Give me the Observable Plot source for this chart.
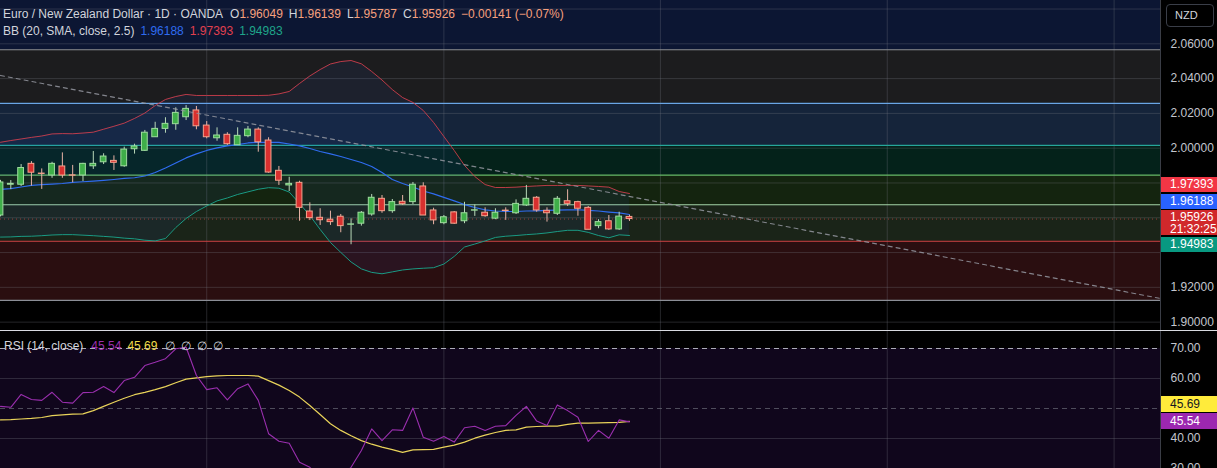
<!DOCTYPE html>
<html><head><meta charset="utf-8">
<script src="https://cdn.jsdelivr.net/npm/d3@7"></script>
<script src="https://cdn.jsdelivr.net/npm/@observablehq/plot@0.6"></script>
<style>
body{margin:0;background:#000;width:1217px;height:468px;overflow:hidden;position:relative;font-family:"Liberation Sans",Arial,sans-serif;}
.abs{position:absolute;}
.legend{position:absolute;left:3px;font-size:12px;line-height:17px;color:#d1d4dc;white-space:nowrap;}
.legend span.v{margin-left:6px;}
.lbl{position:absolute;left:1161px;width:56px;font-size:12px;color:#fff;padding-left:9px;box-sizing:border-box;white-space:nowrap;}
</style></head><body>
<div id="main" class="abs" style="left:0;top:0"></div>
<div id="rsi" class="abs" style="left:0;top:330px"></div>
<div id="overlay"></div>
<script>
// ---------------- DATA ----------------
const open = [1.9613,1.9790,1.9790,1.9910,1.9854,1.9843,1.9895,1.9844,1.9843,1.9896,
1.9919,1.9927,1.9896,1.9994,1.9985,2.0063,2.0111,2.0138,2.0178,2.0217,
2.0130,2.0057,2.0077,2.0017,2.0069,2.0107,2.0044,1.9870,1.9786,1.9801,
1.9636,1.9600,1.9589,1.9606,1.9560,1.9566,1.9619,1.9709,1.9638,1.9692,
1.9690,1.9780,1.9642,1.9569,1.9631,1.9580,1.9641,1.9629,1.9595,1.9641,
1.9626,1.9671,1.9715,1.9640,1.9623,1.9695,1.9690,1.9657,1.9552,1.9580,
1.9533,1.96049];
const high = [1.9815,1.9814,1.9906,1.9923,1.9881,1.9919,1.9973,1.9901,1.9913,1.9981,
1.9968,1.9956,2.0006,2.0023,2.0102,2.0149,2.0175,2.0232,2.0245,2.0240,
2.0153,2.0117,2.0089,2.0117,2.0125,2.0117,2.0060,1.9895,1.9833,1.9810,
1.9686,1.9652,1.9638,1.9619,1.9594,1.9636,1.9734,1.9728,1.9705,1.9728,
1.9803,1.9801,1.9655,1.9613,1.9636,1.9689,1.9674,1.9657,1.9652,1.9657,
1.9703,1.9786,1.9722,1.9657,1.9722,1.9761,1.9695,1.9665,1.9589,1.9613,
1.9632,1.96139];
const low = [1.9605,1.9762,1.9780,1.9782,1.9763,1.9827,1.9827,1.9801,1.9808,1.9878,
1.9906,1.9872,1.9890,1.9966,1.9981,2.0063,2.0086,2.0103,2.0159,2.0106,
2.0054,2.0040,2.0016,2.0017,2.0060,1.9977,1.9856,1.9786,1.9751,1.9580,
1.9584,1.9556,1.9556,1.9514,1.9445,1.9552,1.9609,1.9626,1.9626,1.9671,
1.9676,1.9613,1.9560,1.9560,1.9562,1.9566,1.9608,1.9603,1.9589,1.9585,
1.9619,1.9665,1.9632,1.9575,1.9613,1.9665,1.9609,1.9531,1.9537,1.9527,
1.9527,1.95787];
const close = [1.9803,1.9795,1.9886,1.9859,1.9852,1.9910,1.9843,1.9842,1.9910,1.9910,
1.9952,1.9916,1.9992,2.0010,2.0089,2.0111,2.0140,2.0203,2.0226,2.0126,
2.0063,2.0073,2.0023,2.0071,2.0107,2.0034,1.9860,1.9813,1.9795,1.9657,
1.9598,1.9586,1.9575,1.9552,1.9562,1.9629,1.9715,1.9638,1.9690,1.9678,
1.9790,1.9613,1.9585,1.9603,1.9566,1.9626,1.9643,1.9609,1.9629,1.9639,
1.9680,1.9709,1.9642,1.9626,1.9709,1.9680,1.9652,1.9531,1.9575,1.9533,
1.96067,1.95926];

const bbUpper = [2.0034,2.0044,2.0053,2.0062,2.0070,2.0082,2.0084,2.0083,2.0087,2.0092,
2.0109,2.0126,2.0144,2.0171,2.0202,2.0245,2.0280,2.0297,2.0309,2.0303,
2.0303,2.0303,2.0303,2.0303,2.0303,2.0303,2.0304,2.0312,2.0326,2.0372,
2.0415,2.0452,2.0484,2.0498,2.0504,2.0485,2.0441,2.0392,2.0337,2.0291,
2.0263,2.0217,2.0148,2.0067,1.9987,1.9901,1.9837,1.9791,1.9774,1.9774,
1.9776,1.9780,1.9783,1.9786,1.9786,1.9786,1.9786,1.9783,1.9780,1.9776,
1.9751,1.97393];
const bbBasis = [1.9763,1.9768,1.9777,1.9786,1.9790,1.9794,1.9797,1.9803,1.9807,1.9811,
1.9815,1.9820,1.9826,1.9830,1.9840,1.9860,1.9886,1.9915,1.9944,1.9967,
1.9987,2.0002,2.0013,2.0021,2.0030,2.0034,2.0034,2.0033,2.0024,2.0013,
1.9998,1.9981,1.9967,1.9952,1.9935,1.9918,1.9895,1.9860,1.9820,1.9797,
1.9777,1.9754,1.9737,1.9717,1.9697,1.9676,1.9659,1.9645,1.9639,1.9636,
1.9636,1.9639,1.9640,1.9642,1.9644,1.9645,1.9646,1.9643,1.9639,1.9633,
1.9628,1.96188];
const bbLower = [1.9489,1.9490,1.9493,1.9494,1.9497,1.9501,1.9503,1.9503,1.9500,1.9497,
1.9493,1.9489,1.9483,1.9479,1.9471,1.9467,1.9481,1.9544,1.9596,1.9636,
1.9668,1.9697,1.9714,1.9734,1.9749,1.9764,1.9773,1.9770,1.9748,1.9682,
1.9613,1.9533,1.9458,1.9401,1.9346,1.9306,1.9286,1.9278,1.9289,1.9300,
1.9306,1.9310,1.9313,1.9334,1.9378,1.9432,1.9449,1.9467,1.9487,1.9494,
1.9498,1.9503,1.9507,1.9513,1.9521,1.9528,1.9528,1.9516,1.9498,1.9485,
1.9502,1.94983];

const rsi = [50.7,50.4,54.7,53.0,52.7,55.4,52.1,51.8,55.3,55.4,
57.3,55.3,59.3,60.4,64.3,65.4,66.6,69.9,70.4,61.0,
56.3,56.9,52.9,56.6,58.2,52.7,41.6,39.1,38.4,32.1,
30.4,27.0,25.0,27.0,30.4,36.0,43.2,39.3,42.9,42.7,
50.2,40.4,39.1,40.7,38.8,43.6,44.1,42.7,44.1,44.3,
47.7,50.7,45.8,44.3,51.2,49.3,47.1,39.0,42.7,40.1,
46.2,45.54];
const rsiMA = [46.2,46.3,46.5,46.7,47.0,47.6,47.9,48.1,48.2,49.3,
50.7,52.1,53.4,54.6,55.4,56.3,57.3,58.6,59.8,60.2,
60.6,60.9,61.0,61.0,61.0,60.8,59.3,57.8,56.0,53.8,
51.0,48.0,44.9,42.7,40.9,39.3,38.1,37.1,36.3,35.4,
36.2,36.3,36.4,37.1,37.8,38.8,40.1,41.1,42.0,42.7,
42.9,43.8,44.0,44.1,44.1,44.7,45.1,45.1,45.2,45.3,
45.4,45.69];

// Fibonacci retracement levels (0 → 1)
const fibLevels = [1.9125, 1.9465, 1.9675, 1.9845, 2.0016, 2.0258, 2.0566];
// Trend line (bar index, price)
const trendIdx = [0, 112.5];
const trendPrice = [2.0418, 1.9136];
// Month boundaries (bar index)
const monthStarts = [20, 43, 64, 86, 108];
// Axis ticks
const priceGrid = [1.90, 1.92, 1.94, 1.96, 1.98, 2.00, 2.02, 2.04, 2.06, 2.08];
const priceTickLabels = [1.90, 1.92, 2.00, 2.02, 2.04, 2.06];
const rsiGrid = [40, 60];
const rsiTickLabels = [30, 40, 60, 70];
const rsiBands = [30, 50, 70];

// ---------------- STYLE ----------------
const W = 1217, RIGHT = 57;
const xDomain = [0, 112.5];
const priceDomain = [1.8952, 2.0849];
const rsiDomain = [30, 76];
const zoneFills = ["#2a0e10", "#1a2418", "#14240f", "#04221a", "#15243a", "#1c1c1e"];
const topFill = "#0c1633";
const fibLineColors = ["#8b8e96", "#d04545", "#a5d6a7", "#66bb6a", "#26a69a", "#6aa6e6", "#8b8e96"];
const upFill = "#3fae49", upStroke = "#9fdc9f", upWick = "#b9d9b9";
const dnFill = "#d8302f", dnStroke = "#f5a48f", dnWick = "#e9b3a6";
const gridStyle = {stroke: "#787b86", strokeOpacity: 0.3};
const fontFamily = '"Liberation Sans", Arial, sans-serif';

const N = close.length;
const idx = d3.range(N);
const candles = idx.map(i => ({i, o: open[i], h: high[i], l: low[i], c: close[i], up: close[i] >= open[i]}));
const zones = d3.range(fibLevels.length - 1).map(k => ({lo: fibLevels[k], hi: fibLevels[k + 1], fill: zoneFills[k]}));
zones.push({lo: fibLevels[fibLevels.length - 1], hi: priceDomain[1], fill: topFill});
const trend = trendIdx.map((x, k) => ({x, y: trendPrice[k]}));

const mainPlot = Plot.plot({
  width: W, height: 330,
  marginLeft: 0, marginRight: RIGHT, marginTop: 0, marginBottom: 0,
  x: {domain: xDomain, axis: null},
  y: {domain: priceDomain},
  color: {type: "identity"},
  style: {background: "#000", color: "#c3c6ce", fontFamily, fontSize: "12px", overflow: "hidden", maxWidth: "none"},
  marks: [
    Plot.rect(zones, {x1: xDomain[0], x2: xDomain[1], y1: "lo", y2: "hi", fill: "fill"}),
    Plot.ruleY(priceGrid, gridStyle),
    Plot.ruleX(monthStarts, gridStyle),
    Plot.ruleY(fibLevels, {stroke: (d, k) => fibLineColors[k], strokeWidth: 1.2}),
    Plot.areaY(idx, {x: i => i, y1: i => bbLower[i], y2: i => bbUpper[i], fill: "#2962ff", fillOpacity: 0.07}),
    Plot.line(idx, {x: i => i, y: i => bbUpper[i], stroke: "#d8404c", strokeOpacity: 0.85, strokeWidth: 1}),
    Plot.line(idx, {x: i => i, y: i => bbBasis[i], stroke: "#2f6cf0", strokeWidth: 1.2}),
    Plot.line(idx, {x: i => i, y: i => bbLower[i], stroke: "#1a9b86", strokeWidth: 1}),
    Plot.ruleY([close[N - 1]], {stroke: "#e5524a", strokeOpacity: 0.6, strokeDasharray: "1,3"}),
    Plot.ruleX(candles, {x: "i", y1: "l", y2: "h", stroke: d => d.up ? upWick : dnWick, strokeWidth: 1}),
    Plot.rect(candles, {x1: d => d.i - 0.28, x2: d => d.i + 0.28, y1: "o", y2: "c",
      fill: d => d.up ? upFill : dnFill, stroke: d => d.up ? upStroke : dnStroke, strokeWidth: 1}),
    Plot.line(trend, {x: "x", y: "y", stroke: "#9598a1", strokeOpacity: 0.85, strokeWidth: 1.2, strokeDasharray: "4,4"}),
    Plot.axisY(priceTickLabels, {anchor: "right", tickSize: 0, tickPadding: 10, tickFormat: d3.format(".5f"), label: null})
  ]
});
document.getElementById("main").appendChild(mainPlot);

const rsiPlot = Plot.plot({
  width: W, height: 138,
  marginLeft: 0, marginRight: RIGHT, marginTop: 0, marginBottom: 0,
  x: {domain: xDomain, axis: null},
  y: {domain: rsiDomain},
  style: {background: "#000", color: "#c3c6ce", fontFamily, fontSize: "12px", overflow: "hidden", maxWidth: "none"},
  marks: [
    Plot.rect([rsiBands], {x1: xDomain[0], x2: xDomain[1], y1: d => d[0], y2: d => d[2], fill: "#10061c"}),
    Plot.ruleY(rsiGrid, gridStyle),
    Plot.ruleX(monthStarts, gridStyle),
    Plot.ruleY([rsiBands[1]], {stroke: "#787b86", strokeOpacity: 0.6, strokeDasharray: "5,4"}),
    Plot.ruleY([rsiBands[0], rsiBands[2]], {stroke: "#c8cad2", strokeOpacity: 0.85, strokeDasharray: "5,4"}),
    Plot.line(idx, {x: i => i, y: i => rsiMA[i], stroke: "#e9d35a", strokeWidth: 1.2}),
    Plot.line(idx, {x: i => i, y: i => rsi[i], stroke: "#9a2fae", strokeWidth: 1.1}),
    Plot.axisY(rsiTickLabels, {anchor: "right", tickSize: 0, tickPadding: 10, tickFormat: d3.format(".2f"), label: null})
  ]
});
document.getElementById("rsi").appendChild(rsiPlot);

// ---------------- OVERLAYS ----------------
const ov = document.getElementById("overlay");
function el(html) { const t = document.createElement("template"); t.innerHTML = html.trim(); const n = t.content.firstChild; ov.appendChild(n); return n; }
const f5 = d3.format(".5f");
const minus = s => s.replace("-", "\u2212");
const chg = close[N - 1] - close[N - 2];
const pct = chg / close[N - 2] * 100;
const dnText = "#f7a07e";

el(`<div class="legend" style="top:6px">Euro / New Zealand Dollar · 1D · OANDA<span style="margin-left:7px">O<span style="color:${dnText}">${f5(open[N-1])}</span></span><span class="v">H<span style="color:${dnText}">${f5(high[N-1])}</span></span><span class="v">L<span style="color:${dnText}">${f5(low[N-1])}</span></span><span class="v">C<span style="color:${dnText}">${f5(close[N-1])}</span></span><span class="v" style="color:${dnText}">${minus(f5(chg))} (${minus(pct.toFixed(2))}%)</span></div>`);
el(`<div class="legend" style="top:23px">BB (20, SMA, close, 2.5)<span class="v" style="color:#2f6cf0">${f5(bbBasis[N-1])}</span><span class="v" style="color:#e0404f">${f5(bbUpper[N-1])}</span><span class="v" style="color:#1fa58a">${f5(bbLower[N-1])}</span></div>`);
el(`<div class="legend" style="top:338px;left:4px">RSI (14, close)<span class="v" style="color:#9a2fae;margin-left:8px">${rsi[N-1].toFixed(2)}</span><span class="v" style="color:#f0dc4a">${rsiMA[N-1].toFixed(2)}</span><span class="v" style="margin-left:8px">∅</span><span class="v">∅</span><span class="v">∅</span><span class="v">∅</span></div>`);

// separators
el(`<div class="abs" style="left:1160px;top:0;width:1px;height:468px;background:#3a3d46"></div>`);
el(`<div class="abs" style="left:0;top:330px;width:1217px;height:1px;background:#d8dae0"></div>`);
// currency button
el(`<div class="abs" style="left:1166px;top:4px;width:48px;height:23px;border:1px solid #3a3e48;border-radius:4px;box-sizing:border-box;color:#d1d4dc;font-size:11px;line-height:21px;padding-left:8px">NZD</div>`);

// price labels on the right axis
const yMain = mainPlot.scale("y");
const yR = rsiPlot.scale("y");
function box(center, h, bg, fg, text) {
  el(`<div class="lbl" style="top:${center - h / 2}px;height:${h}px;line-height:${h}px;background:${bg};color:${fg}">${text}</div>`);
}
const H1 = 15, GAP = 1.5;
const yc = yMain.apply(close[N - 1]);
const curTop = yc - 8.5, curH = 25;
el(`<div class="lbl" style="top:${curTop}px;height:${curH}px;background:#d1282b;line-height:12px;padding-top:1px">${f5(close[N-1])}<br>21:32:25</div>`);
let stackTop = curTop;
[[bbBasis[N - 1], "#2962ff"], [bbUpper[N - 1], "#f23645"]].sort((a, b) => a[0] - b[0]).forEach(([v, c]) => {
  const center = Math.min(yMain.apply(v), stackTop - GAP - H1 / 2);
  box(center, H1, c, "#fff", f5(v));
  stackTop = center - H1 / 2;
});
const stackBottom = curTop + curH;
{
  const v = bbLower[N - 1];
  const center = Math.max(yMain.apply(v), stackBottom + GAP + H1 / 2);
  box(center, H1, "#089981", "#fff", f5(v));
}
{
  const yr = 330 + yR.apply(rsi[N - 1]);
  box(yr, H1 + 1, "#9c27b0", "#fff", rsi[N - 1].toFixed(2));
  const ym = Math.min(330 + yR.apply(rsiMA[N - 1]), yr - (H1 + 1) - GAP);
  box(ym, H1 + 1, "#ffeb3b", "#131722", rsiMA[N - 1].toFixed(2));
}
</script></body></html>
